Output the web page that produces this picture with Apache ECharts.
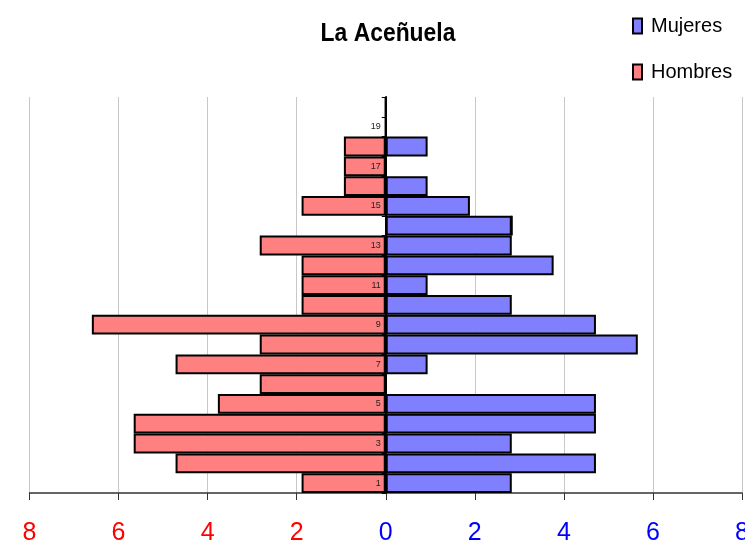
<!DOCTYPE html>
<html>
<head>
<meta charset="utf-8">
<script src="https://cdn.jsdelivr.net/npm/echarts@6/dist/echarts.min.js"></script>
<style>
  html, body { margin: 0; padding: 0; background: #fff; }
  #chart { width: 745px; height: 545px; }
</style>
</head>
<body>
<div id="chart"></div>
<script>
// Age groups (1 = youngest) and share of population (%) per group
const ageGroups = ['1','2','3','4','5','6','7','8','9','10','11','12','13','14','15','16','17','18','19','20'];
const hombres = [1.89, 4.72, 5.66, 5.66, 3.77, 2.83, 4.72, 2.83, 6.60, 1.89, 1.89, 1.89, 2.83, 0, 1.89, 0.94, 0.94, 0.94, 0, 0];
const mujeres = [2.83, 4.72, 2.83, 4.72, 4.72, 0, 0.94, 5.66, 4.72, 2.83, 0.94, 3.77, 2.83, 2.83, 1.89, 0.94, 0, 0.94, 0, 0];

const chart = echarts.init(document.getElementById('chart'));
const font = "'Liberation Sans', Arial, sans-serif";

const gridLeft = 29.5;
const gridRight = 3;
const plotWidth = 745 - gridLeft - gridRight;

chart.setOption({
  backgroundColor: '#ffffff',
  animation: false,
  graphic: [
    {
      // chart title, slightly condensed
      type: 'text',
      x: 388,
      y: 34,
      scaleX: 0.88,
      style: {
        text: 'La Aceñuela',
        font: "bold 26px 'Liberation Sans', Arial, sans-serif",
        fill: '#000',
        align: 'center',
        verticalAlign: 'middle'
      }
    }
  ],
  legend: {
    data: ['Mujeres', 'Hombres'],
    orient: 'vertical',
    left: 627,
    top: 11,
    itemWidth: 9,
    itemHeight: 15,
    itemGap: 26,
    icon: 'rect',
    textStyle: {
      fontFamily: font,
      fontSize: 20,
      color: '#000',
      padding: [0, 0, 0, 4]
    }
  },
  grid: { left: gridLeft, right: gridRight, top: 97, bottom: 52, outerBoundsMode: 'none', containLabel: false },
  xAxis: {
    type: 'value',
    min: -8,
    max: 8,
    interval: 2,
    axisLine: { show: true, lineStyle: { color: '#333', width: 1.5 } },
    axisTick: { show: true, length: 7, lineStyle: { color: '#333' } },
    splitLine: { show: true, lineStyle: { color: '#c8c8c8', width: 1 } },
    axisLabel: {
      margin: 28,
      fontFamily: font,
      fontSize: 25,
      formatter: v => String(Math.abs(v)),
      color: v => (Number(v) < 0 ? '#ff0000' : '#0000ff')
    }
  },
  yAxis: {
    type: 'category',
    data: ageGroups,
    z: 10,
    // place the age axis on the zero line of the value axis
    offset: -plotWidth / 2,
    axisLine: { show: true, onZero: false, lineStyle: { color: '#000', width: 2 } },
    axisTick: { show: true, interval: 0, length: 4, lineStyle: { color: '#000' } },
    axisLabel: {
      interval: 1,
      margin: 5,
      fontFamily: font,
      fontSize: 9,
      color: '#222'
    },
    splitLine: { show: false }
  },
  series: [
    {
      name: 'Mujeres',
      type: 'bar',
      stack: 'pop',
      barCategoryGap: '0%',
      data: mujeres,
      itemStyle: { color: '#8080ff', borderColor: '#000', borderWidth: 2 }
    },
    {
      name: 'Hombres',
      type: 'bar',
      stack: 'pop',
      barCategoryGap: '0%',
      data: hombres.map(v => -v),
      itemStyle: { color: '#ff8080', borderColor: '#000', borderWidth: 2 }
    }
  ]
});
</script>
</body>
</html>
